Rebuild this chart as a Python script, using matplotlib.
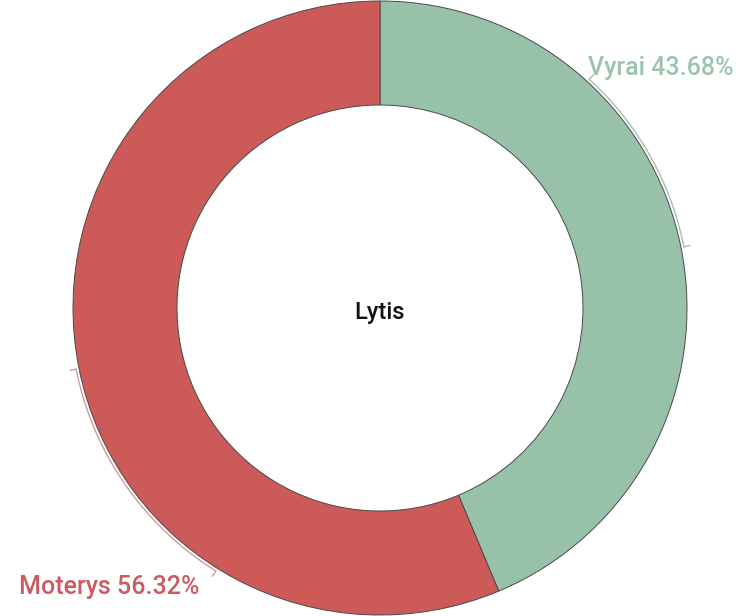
"""Donut chart with bracket labels."""

import matplotlib.pyplot as plt
import numpy as np

categories = ["Vyrai", "Moterys"]
shares = [43.68, 56.32]
colours = ["#98c1a9", "#cb5a58"]
label_colours = ["#9cc4ad", "#cc5a60"]
bracket_colours = ["#a9bcb1", "#d49a9a"]
centre_label = "Lytis"

plt.rcParams["font.family"] = ["Roboto", "DejaVu Sans"]

W, H = 740, 616
fig = plt.figure(figsize=(W / 100, H / 100), dpi=100)
ax = fig.add_axes([0, 0, 1, 1])

cx, cy = 380, 308
r_out, ring = 307, 104

ax.pie(
    shares,
    colors=colours,
    startangle=90,
    counterclock=False,
    center=(cx, cy),
    radius=r_out,
    wedgeprops=dict(width=ring, edgecolor="#4a4a4a", linewidth=0.7),
    frame=True,
)
ax.set_xlim(0, W)
ax.set_ylim(0, H)
ax.set_aspect("equal")
ax.axis("off")

ax.text(cx, cy - 4, centre_label, ha="center", va="center", fontsize=17,
        color="#111111", fontweight="medium")


def polar(theta_deg, r):
    # compass angle, clockwise from top
    t = np.radians(theta_deg)
    return cx + r * np.sin(t), cy + r * np.cos(t)


total = sum(shares)
start = 0.0
for name, val, lcol, bcol in zip(categories, shares, label_colours, bracket_colours):
    span = 360.0 * val / total
    a1 = start + 0.27 * span
    a2 = start + 0.5 * span
    rb = r_out + 3
    th = np.linspace(a1, a2, 80)
    xs, ys = polar(th, rb)
    ax.plot(xs, ys, color=bcol, lw=1.0, solid_capstyle="round")
    for a in (a1, a2):
        x0, y0 = polar(a, rb)
        x1, y1 = polar(a, rb + 6)
        ax.plot([x0, x1], [y0, y1], color=bcol, lw=1.0)
    pct = f"{name} {val:.2f}%"
    lx, ly = polar(a1, rb + 6)
    if start + span / 2 < 180:
        ax.text(lx - 5, ly, pct, ha="left", va="baseline", fontsize=18,
                color=lcol, fontweight="medium")
    else:
        ax.text(lx - 13, ly - 18, pct, ha="right", va="baseline", fontsize=18,
                color=lcol, fontweight="medium")
    start += span

fig.savefig("out.png", dpi=100, facecolor="white")
